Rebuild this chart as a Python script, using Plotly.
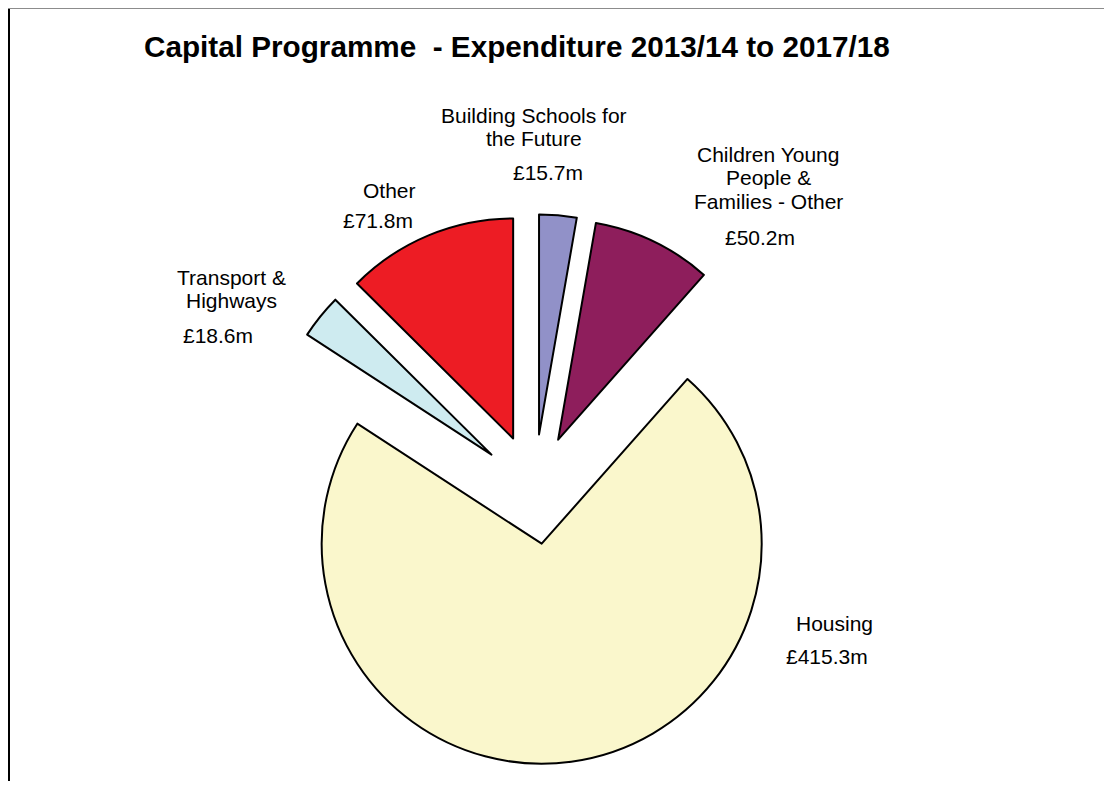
import plotly.graph_objects as go

# ---- data ----
categories = ["Building Schools for the Future", "Children Young People & Families - Other",
              "Housing", "Transport & Highways", "Other"]
values = [15.7, 50.2, 415.3, 18.6, 71.8]
value_labels = ["£15.7m", "£50.2m", "£415.3m", "£18.6m", "£71.8m"]
colors = ["#9191C8", "#8E1E5C", "#FAF7CC", "#CEEBF0", "#ED1C24"]

W, H = 1096, 773   # figure size (page body has 8px margin)
OFF = 8


def px(x):
    return (x - OFF) / W


def py(y):
    return 1 - (y - OFF) / H


# pie geometry (page px)
cx, cy, r, pull = 534.3, 489.2, 220.0, 0.25
half = r * (1 + pull)

fig = go.Figure(go.Pie(
    labels=categories,
    values=values,
    sort=False,
    direction="clockwise",
    rotation=0,
    pull=[pull] * len(values),
    marker=dict(colors=colors, line=dict(color="#000000", width=2)),
    textinfo="none",
    hoverinfo="label+value",
    showlegend=False,
    domain=dict(x=[(cx - OFF - half) / W, (cx - OFF + half) / W],
                y=[(H - (cy - OFF) - half) / H, (H - (cy - OFF) + half) / H]),
))

FONT = dict(family="Liberation Sans, Arial, sans-serif", size=21, color="#000000")

# label lines: (text, center x, baseline y) in page px
label_lines = [
    ("Building Schools for", 533.7, 123),
    ("the Future", 534, 146),
    (value_labels[0], 547.5, 180),
    ("Children Young", 768.3, 161.7),
    ("People &", 768, 184.5),
    ("Families - Other", 768.3, 209),
    (value_labels[1], 760, 245),
    ("Housing", 834.7, 630.7),
    (value_labels[2], 827.2, 664),
    ("Transport &", 231, 285),
    ("Highways", 231.7, 308.3),
    (value_labels[3], 217.5, 343.3),
    ("Other", 389.3, 198.3),
    (value_labels[4], 378, 228.3),
]

annotations = []
for text, x, yb in label_lines:
    annotations.append(dict(
        text=text, x=px(x), y=py(yb - 7.5), xref="paper", yref="paper",
        xanchor="center", yanchor="middle", showarrow=False, font=FONT))

annotations.append(dict(
    text="<b>Capital Programme  - Expenditure 2013/14 to 2017/18</b>",
    x=px(516.5), y=py(46.5), xref="paper", yref="paper",
    xanchor="center", yanchor="middle", showarrow=False,
    font=dict(family="Liberation Sans, Arial, sans-serif", size=29.7, color="#000000")))

shapes = [
    dict(type="line", xref="paper", yref="paper", x0=1 / W, x1=1 / W, y0=0, y1=1,
         line=dict(color="#000000", width=2)),
    dict(type="line", xref="paper", yref="paper", x0=0, x1=1, y0=1 - 0.5 / H, y1=1 - 0.5 / H,
         line=dict(color="#8C8C8C", width=1)),
]

fig.update_layout(
    width=W, height=H,
    margin=dict(l=0, r=0, t=0, b=0),
    paper_bgcolor="#FFFFFF",
    plot_bgcolor="#FFFFFF",
    annotations=annotations,
    shapes=shapes,
)

fig.write_html("out.html")
